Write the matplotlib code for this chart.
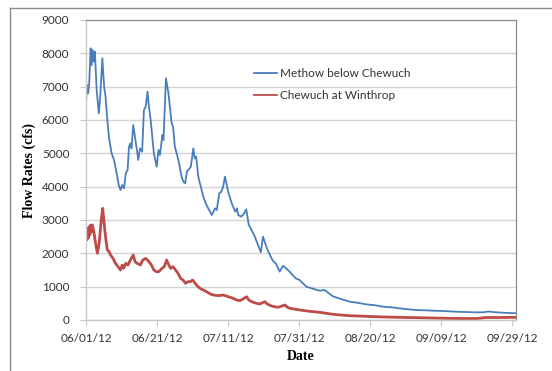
import matplotlib
matplotlib.use("Agg")
import matplotlib.pyplot as plt
import matplotlib.dates as mdates
import pandas as pd
from matplotlib.lines import Line2D

# days since 06/01/12 and flow (cfs)
methow_days = [0, 0.3, 0.6, 0.9, 1.3, 1.6, 1.9, 2.2, 2.5, 3.0, 3.6, 4.0, 4.6, 5.1, 5.5,
               6.0, 6.5, 7.2, 7.9, 8.8, 9.2, 9.7, 10.2, 10.7, 11.2, 11.7, 12.1, 12.5,
               12.8, 13.3, 13.9, 14.4, 14.7, 15.2, 15.8, 16.3, 16.8, 17.3, 17.7, 18.2,
               19.1, 19.5, 19.9, 20.4, 20.8, 21.5, 21.8, 22.5, 23.2, 24.1, 24.5, 25.0,
               26.0, 26.9, 27.4, 27.9, 28.4, 28.8, 29.5, 30.2, 30.6, 31.0, 31.6, 32.3,
               33.0, 33.7, 34.4, 35.4, 36.3, 36.8, 37.5, 38.1, 38.6, 39.1, 39.5, 40.0,
               41.0, 42.0, 42.5, 42.8, 43.7, 44.5, 45.1, 45.8, 46.6, 47.5, 48.4, 49.2,
               49.8, 50.9, 52.2, 52.8, 53.4, 54.5, 55.4, 56.0, 57.3, 59.0, 60.1, 62.0,
               63.5, 65.7, 67.1, 69.5, 72.0, 74.2, 76.8, 78.8, 81.5, 83.5, 86.1, 88.2,
               90.8, 92.9, 95.5, 97.5, 100.2, 102.2, 104.9, 106.9, 109.6, 111.6, 113.3,
               114.5, 116.3, 118.9, 120.8]
methow_flow = [6550, 7050, 6800, 7100, 8150, 7650, 8100, 7750, 8050, 6900, 6200, 6700,
               7850, 7000, 6700, 6000, 5450, 5000, 4800, 4300, 4050, 3900, 4050, 3950,
               4400, 4500, 5200, 5300, 5150, 5850, 5400, 5050, 4800, 5150, 5050, 6300,
               6400, 6850, 6400, 6000, 5000, 4800, 4600, 5100, 4950, 5550, 5400, 7250,
               6800, 5900, 5800, 5200, 4800, 4300, 4150, 4100, 4450, 4500, 4600, 5150,
               4850, 4900, 4300, 4000, 3700, 3500, 3350, 3150, 3350, 3300, 3800, 3850,
               4000, 4300, 4100, 3850, 3500, 3250, 3350, 3150, 3100, 3200, 3320, 2850,
               2700, 2500, 2250, 2030, 2500, 2150, 1850, 1750, 1700, 1450, 1620, 1580,
               1450, 1250, 1200, 1000, 950, 880, 900, 710, 620, 550, 510, 470, 440, 400,
               380, 350, 320, 300, 290, 280, 270, 260, 245, 240, 230, 230, 255, 240, 225,
               210, 205]

chewuch_days = [0, 0.2, 0.4, 0.6, 0.9, 1.1, 1.3, 1.6, 1.8, 2.2, 2.7, 3.2, 3.7, 4.3, 4.7,
                5.2, 5.6, 6.0, 6.5, 6.9, 7.6, 8.3, 9.0, 9.7, 10.2, 10.6, 11.2, 11.8,
                12.5, 13.3, 13.8, 14.4, 15.3, 16.0, 16.8, 17.7, 18.4, 19.1, 19.8, 20.5,
                21.4, 22.0, 22.7, 23.3, 23.8, 24.5, 25.2, 25.9, 26.6, 27.3, 28.0, 28.7,
                29.4, 30.0, 30.7, 31.5, 32.1, 33.0, 33.9, 35.0, 35.8, 37.2, 38.6, 40.0,
                41.4, 42.4, 43.3, 44.0, 45.2, 45.8, 46.6, 48.0, 48.9, 50.3, 51.0, 52.2,
                54.0, 56.0, 56.7, 57.4, 60.2, 63.0, 65.8, 69.6, 74.0, 79.0, 84.0, 88.3,
                93.0, 97.7, 102.0, 107.0, 110.0, 112.7, 116.0, 120.8]
chewuch_flow = [2600, 2400, 2750, 2450, 2800, 2550, 2850, 2650, 2850, 2650, 2300, 2000,
                2300, 3000, 3350, 2800, 2400, 2100, 2050, 1950, 1850, 1700, 1600, 1500,
                1650, 1550, 1700, 1650, 1800, 1950, 1750, 1700, 1650, 1800, 1850, 1750,
                1650, 1500, 1450, 1450, 1550, 1600, 1800, 1650, 1550, 1600, 1500, 1400,
                1250, 1200, 1100, 1150, 1150, 1200, 1100, 1000, 950, 900, 850, 780, 750,
                730, 750, 700, 650, 600, 580, 620, 700, 600, 550, 500, 480, 550, 480, 420,
                380, 450, 380, 350, 300, 260, 230, 170, 130, 110, 90, 80, 70, 60, 50, 45,
                45, 75, 75, 80]

start = pd.Timestamp("2012-06-01")
methow_dates = start + pd.to_timedelta(methow_days, unit="D")
chewuch_dates = start + pd.to_timedelta(chewuch_days, unit="D")

plt.rcParams['font.family'] = ['Lato', 'DejaVu Sans']

fig = plt.figure(figsize=(5.52, 3.71), dpi=100)
ax = fig.add_axes([86 / 552, 51 / 371, 430 / 552, 300 / 371])

ax.plot(methow_dates, methow_flow, color='#4A7EBB', lw=1.3, label='Methow below Chewuch')
ax.plot(chewuch_dates, chewuch_flow, color='#BE4B48', lw=2.0, label='Chewuch at Winthrop')

ax.set_ylim(0, 9000)
ax.set_yticks(range(0, 9001, 1000))
ax.set_xlim(start, start + pd.Timedelta(days=121))
ax.set_xticks(pd.date_range(start, periods=7, freq='20D'))
ax.xaxis.set_major_formatter(mdates.DateFormatter('%m/%d/%y'))

ax.grid(axis='y', color='#d4d4d4', lw=1)
ax.set_axisbelow(True)
for side in ['top', 'right']:
    ax.spines[side].set_color('#8c8c8c')
    ax.spines[side].set_linewidth(0.9)
for side in ['left', 'bottom']:
    ax.spines[side].set_color('#c8c8c8')
    ax.spines[side].set_linewidth(1)
ax.tick_params(axis='both', colors='#c8c8c8', labelcolor='#333333', labelsize=8.5, length=4)
ax.tick_params(axis='y', pad=8)
ax.tick_params(axis='x', pad=5)

ax.set_ylabel('Flow Rates (cfs)', family='Liberation Serif', fontweight='bold', fontsize=10, labelpad=4)
ax.set_xlabel('Date', family='Liberation Serif', fontweight='bold', fontsize=10, labelpad=5)

leg = ax.legend(loc='upper left', bbox_to_anchor=(0.365, 0.875), frameon=False, fontsize=8.5,
                handlelength=2.0, handletextpad=0.25, labelspacing=0.95, labelcolor='#333333')
for line in leg.get_lines():
    line.set_linewidth(1.3)

# outer chart border (top and left visible in the reference)
fig.add_artist(Line2D([10 / 552, 1], [1 - 8 / 371, 1 - 8 / 371], color='#8c8c8c', lw=1))
fig.add_artist(Line2D([10 / 552, 10 / 552], [0, 1 - 8 / 371], color='#8c8c8c', lw=1))

fig.savefig('out.png', dpi=100)
